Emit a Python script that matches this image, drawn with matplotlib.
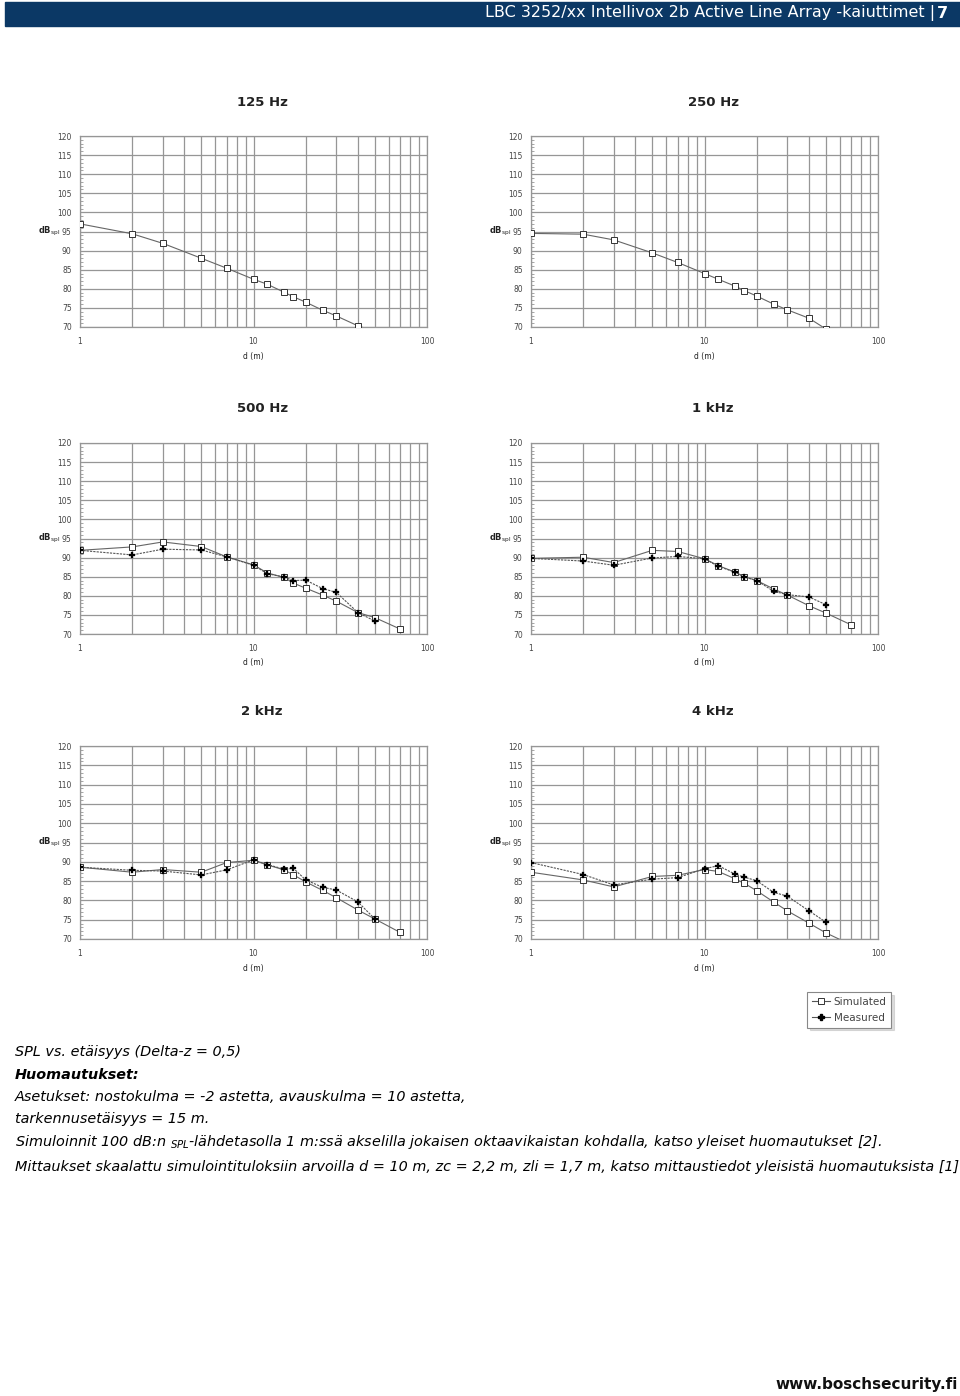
import numpy as np
import matplotlib.pyplot as plt
from matplotlib.lines import Line2D
from matplotlib.patches import Rectangle
from matplotlib.ticker import FixedLocator, MultipleLocator, NullFormatter

nan = np.nan

# etäisyydet (m)
d_sim = [1, 2, 3, 5, 7, 10, 12, 15, 17, 20, 25, 30, 40, 50, 70]
d_meas = [1, 2, 3, 5, 7, 10, 12, 15, 17, 20, 25, 30, 40, 50]

# simuloidut arvot (dB SPL)
sim_125 = [97.0, 94.4, 91.9, 88.0, 85.4, 82.5, 81.2, 79.1, 77.9, 76.5, 74.4, 72.9, 70.3, 68.8, nan]
sim_250 = [94.5, 94.3, 92.8, 89.4, 86.9, 84.0, 82.5, 80.7, 79.5, 78.1, 76.0, 74.5, 72.3, 69.5, nan]
sim_500 = [91.9, 92.8, 94.1, 92.9, 90.2, 88.1, 86.0, 84.8, 83.3, 82.0, 80.2, 78.6, 75.6, 74.3, 71.3]
sim_1k = [89.8, 90.1, 88.7, 91.9, 91.6, 89.7, 87.9, 86.2, 85.0, 84.0, 81.8, 80.2, 77.4, 75.5, 72.4]
sim_2k = [88.6, 87.3, 88.0, 87.3, 89.8, 90.4, 89.2, 87.9, 86.6, 84.8, 82.6, 80.7, 77.5, 75.2, 71.7]
sim_4k = [87.3, 85.3, 83.5, 86.2, 86.5, 88.0, 87.5, 85.6, 84.4, 82.5, 79.6, 77.3, 74.1, 71.6, 68.5]

# mitatut arvot (dB SPL)
meas_500 = [91.9, 90.7, 92.2, 92.0, 90.2, 88.0, 85.8, 84.9, 84.0, 84.1, 81.9, 80.9, 75.6, 73.4]
meas_1k = [89.8, 89.1, 88.0, 89.9, 90.3, 89.7, 87.7, 86.2, 84.9, 84.0, 81.2, 80.3, 79.7, 77.7]
meas_2k = [88.6, 87.8, 87.6, 86.6, 87.9, 90.5, 89.3, 88.1, 88.3, 85.3, 83.4, 82.7, 79.6, 75.2]
meas_4k = [89.8, 86.7, 84.0, 85.5, 85.9, 88.2, 89.0, 86.8, 86.0, 85.1, 82.1, 81.1, 77.3, 74.4]

titles = ['125 Hz', '250 Hz', '500 Hz', '1 kHz', '2 kHz', '4 kHz']
sims = [sim_125, sim_250, sim_500, sim_1k, sim_2k, sim_4k]
meas = [None, None, meas_500, meas_1k, meas_2k, meas_4k]

W, H = 960, 1396
fig = plt.figure(figsize=(W / 100, H / 100), dpi=100)

# otsikkopalkki
fig.patches.append(Rectangle((5 / W, 1 - 26 / H), 1 - 5 / W, 24 / H,
                             transform=fig.transFigure, color='#0b3865', zorder=0))
fig.text(935 / W, 1 - 13 / H, 'LBC 3252/xx Intellivox 2b Active Line Array -kaiuttimet |',
         color='white', fontsize=11.5, ha='right', va='center')
fig.text(948 / W, 1 - 13 / H, '7', color='white', fontsize=11.5, fontweight='bold',
         ha='right', va='center')

lefts = [80, 531]
bottoms = [327, 634, 939]
tops = [136, 443, 746]
grid_c = '#969696'
tick_c = '#444444'

for i in range(6):
    r, c = divmod(i, 2)
    x0 = lefts[c]
    ax = fig.add_axes([x0 / W, 1 - bottoms[r] / H, 347 / W, (bottoms[r] - tops[r]) / H])
    ax.set_xscale('log')
    ax.set_xlim(1, 100)
    ax.set_ylim(70, 120)
    ax.xaxis.set_major_locator(FixedLocator([1, 10, 100]))
    ax.xaxis.set_minor_locator(FixedLocator([2, 3, 4, 5, 6, 7, 8, 9, 20, 30, 40, 50, 60, 70, 80, 90]))
    ax.xaxis.set_minor_formatter(NullFormatter())
    ax.set_xticklabels(['1', '10', '100'])
    ax.yaxis.set_major_locator(MultipleLocator(5))
    ax.yaxis.set_minor_locator(MultipleLocator(1))
    ax.grid(True, which='both', axis='x', color=grid_c, lw=0.9)
    ax.grid(True, which='major', axis='y', color=grid_c, lw=0.9)
    ax.tick_params(axis='x', which='both', length=0, labelsize=5.5, labelcolor=tick_c, pad=7)
    ax.tick_params(axis='y', which='major', length=0, labelsize=5.5, labelcolor=tick_c, pad=6)
    ax.tick_params(axis='y', which='minor', direction='in', length=2, color=grid_c)
    for s in ax.spines.values():
        s.set_color(grid_c)
        s.set_linewidth(0.9)

    ax.plot(d_sim, sims[i], color='#666666', lw=0.8, marker='s', ms=4.2,
            mfc='white', mec='#333333', mew=0.7, zorder=3)
    if meas[i] is not None:
        ax.plot(d_meas, meas[i], color='#555555', lw=0.8, ls=(0, (2, 1)), marker='P', ms=4.2,
                mfc='black', mec='black', mew=0.2, zorder=4)

    ax.text(0.525, 1 + 34 / 191, titles[i], transform=ax.transAxes, ha='center',
            va='center', fontsize=9.5, fontweight='bold', color='#222222')
    ax.text(-31 / 347, 0.5, r'dB$_{\mathrm{spl}}$', transform=ax.transAxes, ha='center',
            va='center', fontsize=6, color='#222222', fontweight='bold')
    ax.text(0.5, -29 / 191, 'd (m)', transform=ax.transAxes, ha='center',
            va='center', fontsize=5.5, color='#222222')

# selite
leg_handles = [
    Line2D([], [], color='#555555', lw=0.8, marker='s', ms=4, mfc='white', mec='#333333', mew=0.7),
    Line2D([], [], color='#555555', lw=0.8, marker='P', ms=4, mfc='black', mec='black'),
]
leg = fig.legend(leg_handles, ['Simulated', 'Measured'], loc='upper left',
                 bbox_to_anchor=(807 / W, 1 - 992 / H), fontsize=7.5, frameon=True,
                 fancybox=False, shadow={'color': '#bbbbbb'}, handlelength=1.8,
                 handletextpad=0.3, borderpad=0.45, labelspacing=0.6, borderaxespad=0)
leg.get_frame().set_edgecolor('#888888')
leg.get_frame().set_linewidth(0.8)
for t in leg.get_texts():
    t.set_color('#444444')

# huomautukset
fs = 10.4
fig.text(15 / W, 1 - 1052 / H, 'SPL vs. etäisyys (Delta-z = 0,5)', fontsize=fs,
         style='italic', va='center')
fig.text(15 / W, 1 - 1075 / H, 'Huomautukset:', fontsize=fs, style='italic',
         fontweight='bold', va='center')
fig.text(15 / W, 1 - 1097 / H, 'Asetukset: nostokulma = -2 astetta, avauskulma = 10 astetta,',
         fontsize=fs, style='italic', va='center')
fig.text(15 / W, 1 - 1119 / H, 'tarkennusetäisyys = 15 m.', fontsize=fs, style='italic',
         va='center')
fig.text(15 / W, 1 - 1142 / H,
         r'Simuloinnit 100 dB:n $_{\mathit{SPL}}$-lähdetasolla 1 m:ssä akselilla jokaisen '
         'oktaavikaistan kohdalla, katso yleiset huomautukset [2].',
         fontsize=fs, style='italic', va='center')
fig.text(15 / W, 1 - 1167 / H,
         'Mittaukset skaalattu simulointituloksiin arvoilla d = 10 m, zc = 2,2 m, zli = 1,7 m, '
         'katso mittaustiedot yleisistä huomautuksista [1]',
         fontsize=fs, style='italic', va='center')

fig.text(958 / W, 1 - 1384 / H, 'www.boschsecurity.fi', fontsize=11, fontweight='bold',
         ha='right', va='center', color='#111111')

fig.savefig('out.png', dpi=100)
